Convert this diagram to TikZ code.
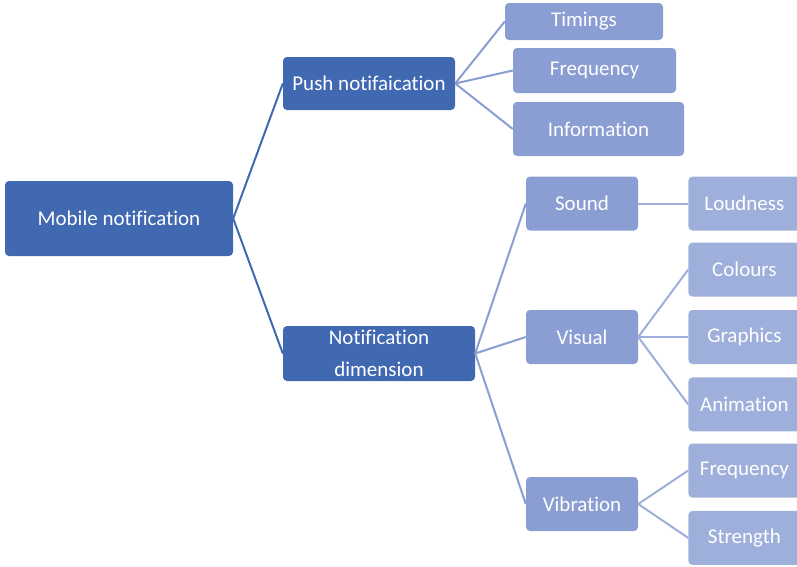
\documentclass[tikz,border=0pt]{standalone}
\usepackage{fontspec}
\setmainfont{Carlito}[Ligatures=NoCommon]
\usetikzlibrary{positioning}
\definecolor{darkblue}{RGB}{65,105,178}
\definecolor{midblue}{RGB}{138,158,211}
\definecolor{lightblue}{RGB}{157,175,218}

\begin{document}
\begin{tikzpicture}[x=1pt,y=-1pt]
	\tikzstyle{box}=[rounded corners=4pt, text=white, font=\fontsize{21}{32}\selectfont, align=center, inner sep=0pt]
\tikzstyle{main}=[box, fill=darkblue]
\tikzstyle{sub}=[box, fill=midblue, minimum width=112pt, minimum height=54pt]
\tikzstyle{leaf}=[box, fill=lightblue, minimum width=112pt, minimum height=54pt]
\tikzstyle{connect}=[line width=2pt, draw=darkblue]
\tikzstyle{connect2}=[line width=2pt, draw=midblue]
\tikzstyle{connect3}=[line width=2pt, draw=lightblue]
\useasboundingbox (0,0) rectangle (797,566);
\node[main, minimum width=228pt, minimum height=75pt] (mobile) at (119,218.5) {Mobile notification};
\node[main, minimum width=172pt, minimum height=53pt] (push) at (369,83.5) {Push notifaication};
\node[main, minimum width=192pt, minimum height=55pt] (dimension) at (379,353.5) {Notification\\dimension};
\node[sub, minimum width=158pt, minimum height=37pt] (timings) at (584,21.5) {Timings};
\node[sub, minimum width=163pt, minimum height=45pt] (frequency) at (594.5,70.5) {Frequency};
\node[sub, minimum width=171pt] (information) at (598.5,129) {Information};
\node[sub] (sound) at (582,203.5) {Sound};
\node[sub] (visual) at (582,337) {Visual};
\node[sub] (vibration) at (582,504) {Vibration};
\node[leaf] (loudness) [right=50pt of sound] {Loudness};
\node[leaf] (graphics) [right=50pt of visual] {Graphics};
\node[leaf] (colours) [above=13pt of graphics] {Colours};
\node[leaf] (animation) [below=13pt of graphics] {Animation};
\node[leaf] (vfrequency) [right=50pt of vibration, yshift=33.5pt] {Frequency};
\node[leaf] (strength) [below=13pt of vfrequency] {Strength};
\path (mobile.east) edge [connect] (push.west)
      (mobile.east) edge [connect] (dimension.west)
      (push.east) edge [connect2] (timings.west)
      (push.east) edge [connect2] (frequency.west)
      (push.east) edge [connect2] (information.west)
      (dimension.east) edge [connect2] (sound.west)
      (dimension.east) edge [connect2] (visual.west)
      (dimension.east) edge [connect2] (vibration.west)
      (sound.east) edge [connect3] (loudness.west)
      (visual.east) edge [connect3] (colours.west)
      (visual.east) edge [connect3] (graphics.west)
      (visual.east) edge [connect3] (animation.west)
      (vibration.east) edge [connect3] (vfrequency.west)
      (vibration.east) edge [connect3] (strength.west);
\end{tikzpicture}
\end{document}
